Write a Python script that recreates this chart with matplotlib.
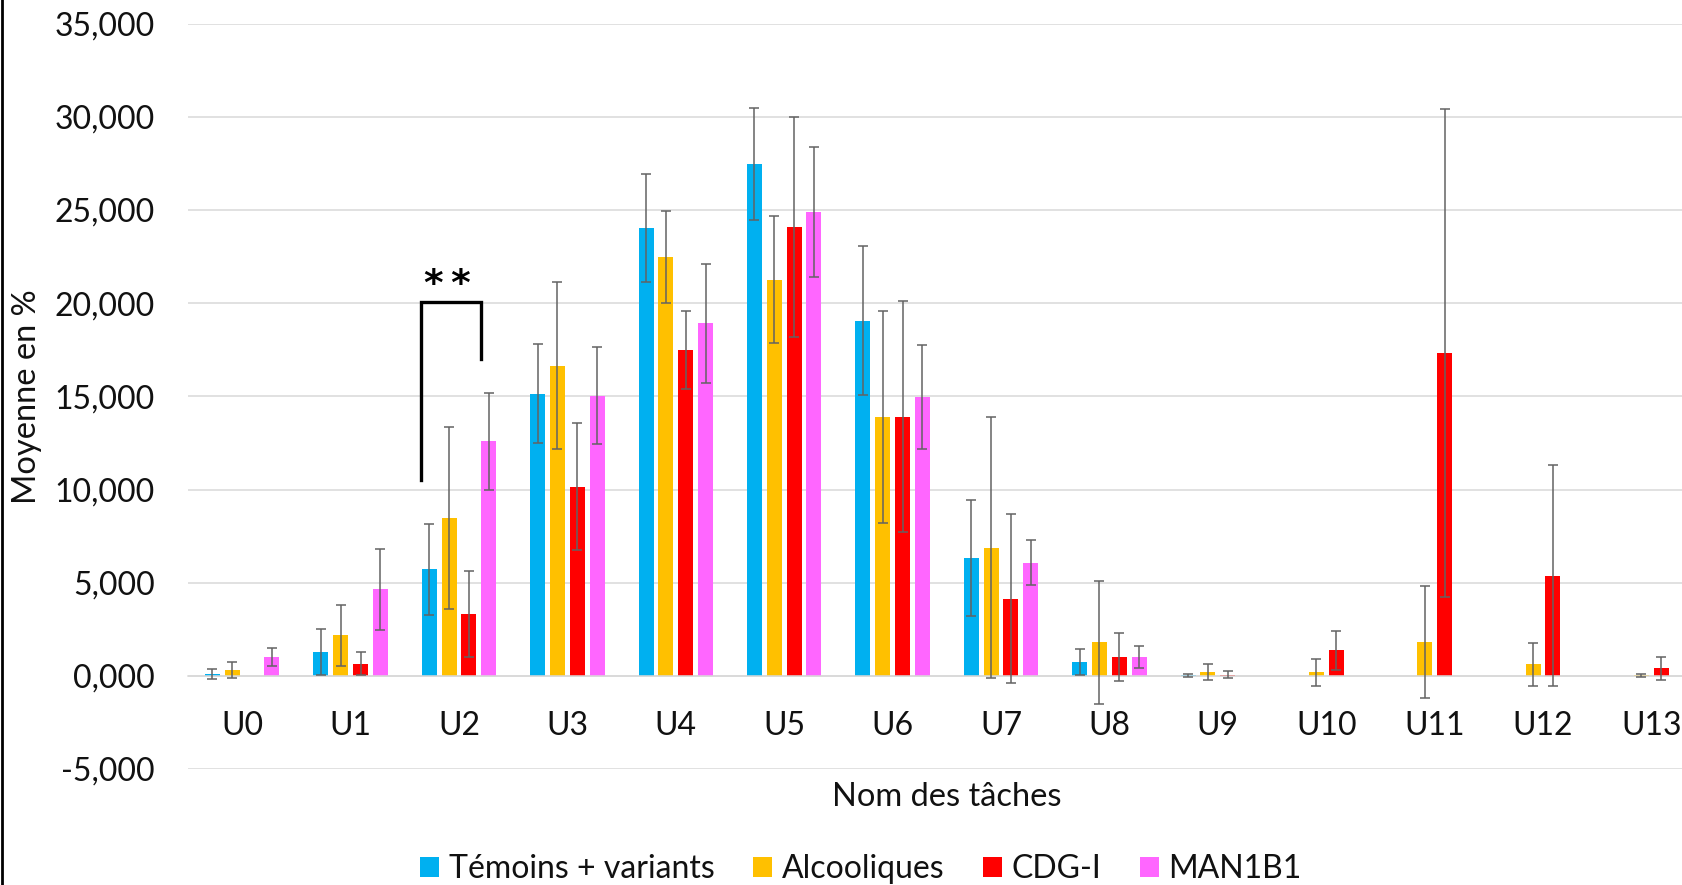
import matplotlib
matplotlib.use('Agg')
import matplotlib.pyplot as plt
import numpy as np

plt.rcParams['font.family'] = ['Lato', 'DejaVu Sans']

# Données (moyenne en % et écart)
taches = ['U0', 'U1', 'U2', 'U3', 'U4', 'U5', 'U6', 'U7', 'U8', 'U9', 'U10', 'U11', 'U12', 'U13']
nan = np.nan
temoins = [0.09, 1.28, 5.71, 15.15, 24.02, 27.48, 19.07, 6.33, 0.73, 0.02, nan, nan, nan, nan]
temoins_err = [0.27, 1.22, 2.46, 2.65, 2.9, 3.0, 4.0, 3.1, 0.7, 0.09, nan, nan, nan, nan]
alcooliques = [0.3, 2.17, 8.48, 16.65, 22.48, 21.26, 13.9, 6.87, 1.81, 0.2, 0.18, 1.8, 0.62, 0.02]
alcooliques_err = [0.42, 1.65, 4.9, 4.5, 2.45, 3.4, 5.7, 7.0, 3.3, 0.45, 0.7, 3.0, 1.16, 0.09]
cdg = [nan, 0.66, 3.31, 10.16, 17.5, 24.09, 13.9, 4.15, 1.0, 0.06, 1.37, 17.32, 5.37, 0.4]
cdg_err = [nan, 0.6, 2.3, 3.4, 2.1, 5.9, 6.2, 4.55, 1.3, 0.2, 1.06, 13.1, 5.92, 0.62]
man1b1 = [1.02, 4.65, 12.58, 15.04, 18.93, 24.89, 14.97, 6.08, 1.0, nan, nan, nan, nan, nan]
man1b1_err = [0.5, 2.18, 2.6, 2.62, 3.2, 3.5, 2.8, 1.2, 0.6, nan, nan, nan, nan, nan]

series = ['Témoins + variants', 'Alcooliques', 'CDG-I', 'MAN1B1']
couleurs = ['#00B0F0', '#FFC000', '#FF0000', '#FF66FF']

# crochet de significativité entre U2 témoins et U2 MAN1B1
crochet_x = [1.645, 1.645, 2.207, 2.207]
crochet_y = [10.52, 20.09, 20.09, 17.0]
etoiles = '*\u2009*'

fig = plt.figure(figsize=(16.82, 8.85), dpi=100)
ax = fig.add_axes([188 / 1682, 1 - 769 / 885, 1517.6 / 1682, (769 - 23.7) / 885])

x = np.arange(len(taches))
pas = 0.183
largeur = 0.138
valeurs = [temoins, alcooliques, cdg, man1b1]
erreurs = [temoins_err, alcooliques_err, cdg_err, man1b1_err]
for i in range(4):
    ax.bar(x + (i - 1.5) * pas, valeurs[i], largeur, color=couleurs[i], label=series[i], zorder=2)
    ax.errorbar(x + (i - 1.5) * pas, valeurs[i], yerr=erreurs[i], fmt='none', ecolor='#636363',
                elinewidth=1.1, capsize=3.5, capthick=1.1, zorder=3)

ax.plot(crochet_x, crochet_y, color='black', lw=2.4, solid_joinstyle='miter', zorder=4)
ax.text(1.89, 20.45, etoiles, ha='center', va='baseline', fontsize=27, fontweight='bold',
        family='DejaVu Sans')

ax.set_xlim(-0.5, 13.5)
ax.set_ylim(-5, 35)
ax.set_yticks(np.arange(-5, 36, 5))
ax.yaxis.set_major_formatter(matplotlib.ticker.FuncFormatter(lambda v, p: f'{v:.3f}'.replace('.', ',')))
ax.set_xticks(x)
ax.set_xticklabels(taches)
ax.grid(axis='y', color='#D9D9D9', lw=1.1, zorder=0)
ax.set_axisbelow(True)
for s in ['top', 'right', 'left']:
    ax.spines[s].set_visible(False)
ax.spines['bottom'].set_position(('data', 0))
ax.spines['bottom'].set_color('#D9D9D9')
ax.spines['bottom'].set_linewidth(1.1)
ax.tick_params(axis='x', length=0, pad=25, labelsize=23, labelcolor='#111111')
ax.tick_params(axis='y', length=0, pad=24, labelsize=23, labelcolor='#111111')

ax.set_xlabel('Nom des tâches', fontsize=23.5, color='#111111')
ax.xaxis.set_label_coords(0.5, -0.037)
ax.xaxis.label.set_va('center')
ax.set_ylabel('Moyenne en %', fontsize=23.5, color='#111111')
ax.yaxis.set_label_coords(-0.106, 0.5)
ax.yaxis.label.set_va('center')

fig.legend(loc='center', bbox_to_anchor=(861 / 1682, 1 - 869 / 885), ncol=4, frameon=False,
           fontsize=23, handlelength=0.6, handleheight=0.6, handletextpad=0.3, columnspacing=1.2,
           labelcolor='#111111')

fig.add_artist(plt.Line2D([0.0009, 0.0009], [0, 1], color='black', lw=2, transform=fig.transFigure))

fig.savefig('out.png', dpi=100)
